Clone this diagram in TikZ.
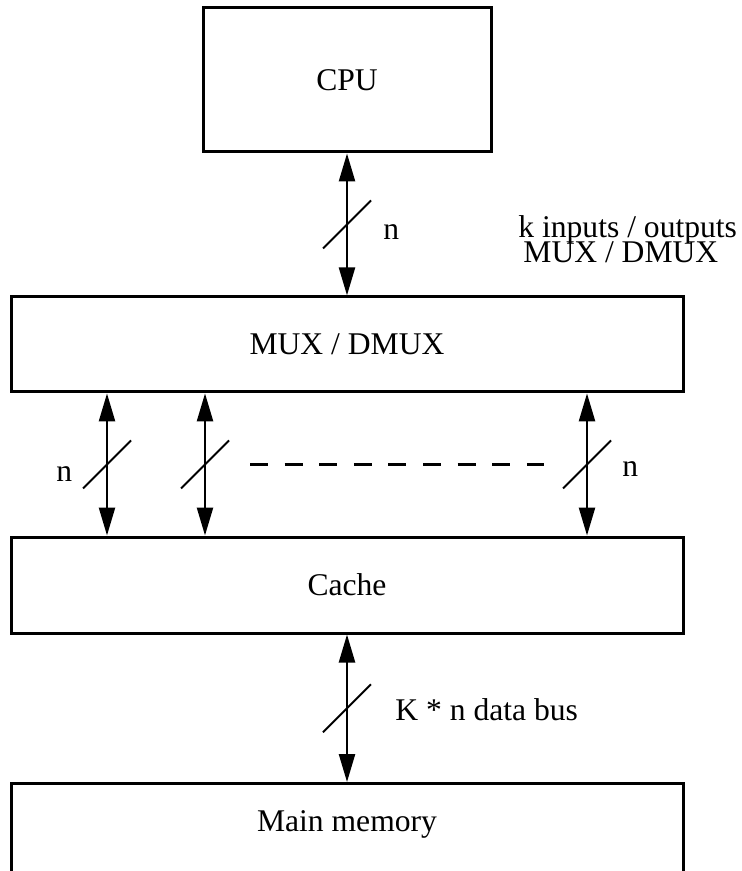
\documentclass[tikz,border=0pt]{standalone}
\usepackage{fontspec}
\setmainfont{Liberation Serif}
\usetikzlibrary{arrows.meta}

\begin{document}
\begin{tikzpicture}[x=0.5pt,y=-0.5pt,>={Triangle[length=14pt,width=8pt]},
  every node/.style={font=\fontsize{15.8pt}{11.5pt}\selectfont},
  unit/.style={draw,line width=1.5pt,inner sep=0pt,minimum width=336pt},
  bus/.style={<->,line width=1.2pt},
  busmark/.style={line width=1pt},
  tag/.style={anchor=base west,inner sep=0pt}]
  \useasboundingbox (0,0) rectangle (742,871);
  \clip (0,0) rectangle (742,871);
  % units
  \node[unit,minimum width=144pt,minimum height=72pt] (cpu) at (347,80) {CPU};
  \node[unit,minimum height=47.5pt] (mux) at (347,344.4) {MUX / DMUX};
  \node[unit,minimum height=48pt] (cache) at (347,585) {Cache};
  % main memory runs off the bottom edge
  \node[unit,anchor=north,text height=24pt,text depth=50pt] (mem) at (347,782) {Main memory};
  % cpu <-> mux
  \draw[bus] (cpu.south) -- coordinate[midway] (m0) (mux.north);
  \draw[busmark] ([shift={(-24,24)}]m0) -- ([shift={(24,-24)}]m0);
  % mux <-> cache, k buses
  \foreach \bx/\nm in {107/a,205/b,587/c} {
    \coordinate (x\nm) at (\bx,0);
    \draw[bus] (mux.south -| x\nm) -- coordinate[midway] (m\nm) (cache.north -| x\nm);
    \draw[busmark] ([shift={(-24,24)}]m\nm) -- ([shift={(24,-24)}]m\nm);
  }
  \draw[line width=1.2pt,dash pattern=on 9pt off 8.3pt]
    ([shift={(45,0)}]mb) -- ([shift={(-43,0)}]mc);
  % cache <-> main memory
  \draw[bus] (cache.south) -- coordinate[midway] (md) (mem.north);
  \draw[busmark] ([shift={(-24,24)}]md) -- ([shift={(24,-24)}]md);
  % labels
  \node[tag] (ntop) at (383,240) {n};
  \node[tag] (kio) at (518,238) {k inputs / outputs};
  \node[tag] (kmux) at (523,263) {MUX / DMUX};
  \node[tag] (nleft) at (56,481) {n};
  \node[tag] (nright) at (622,476) {n};
  \node[tag] (kbus) at (395,720) {K * n data bus};
\end{tikzpicture}
\end{document}
